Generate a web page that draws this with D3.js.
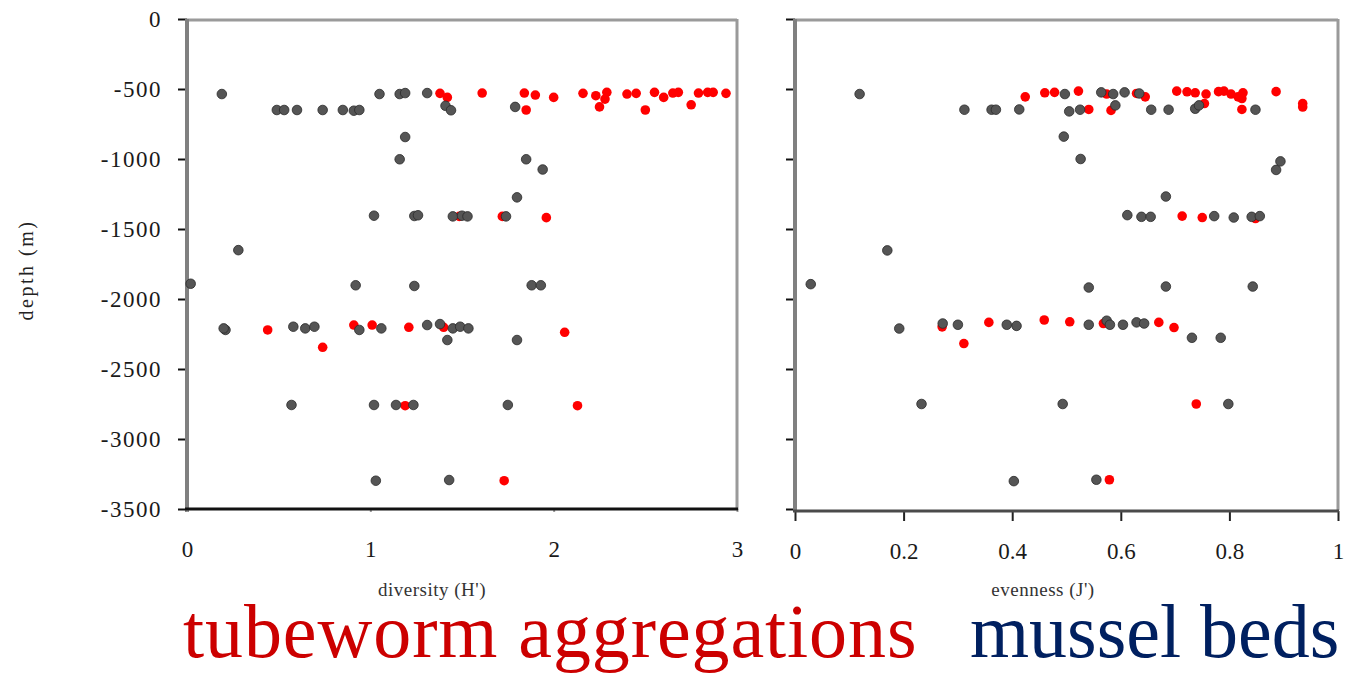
<!DOCTYPE html>
<html>
<head>
<meta charset="utf-8">
<script src="https://cdn.jsdelivr.net/npm/d3@7"></script>
<style>
  body { margin: 0; background: #fff; }
  svg text { font-family: "Liberation Serif", "DejaVu Serif", serif; }
</style>
</head>
<body>
<div id="chart"></div>
<script>
// Tick values for both panels
const depthTicks = [0, -500, -1000, -1500, -2000, -2500, -3000, -3500];
const diversityTicks = [0, 1, 2, 3];
const evennessTicks = [0, 0.2, 0.4, 0.6, 0.8, 1];

// Legend labels
const tubewormLabel = "tubeworm aggregations";
const musselLabel = "mussel beds";

// Diversity H' vs depth (m), [H', depth]
const musselH = [
  [0.19,-536],[0.49,-650],[0.53,-650],[0.60,-650],[0.74,-650],[0.85,-650],[0.91,-655],[0.94,-650],
  [1.05,-536],[1.16,-536],[1.19,-529],[1.31,-529],[1.41,-620],[1.44,-652],[1.19,-843],[1.16,-1002],
  [1.85,-1002],[1.94,-1075],[1.79,-628],
  [1.80,-1274],[1.02,-1405],[1.24,-1407],[1.26,-1402],[1.45,-1410],[1.50,-1405],[1.53,-1410],[1.74,-1410],
  [0.28,-1651],[0.02,-1891],[0.92,-1902],[1.24,-1907],[1.88,-1902],[1.93,-1902],
  [0.21,-2221],[0.20,-2210],[0.58,-2198],[0.645,-2210],[0.695,-2198],[0.94,-2221],[1.06,-2210],
  [1.31,-2186],[1.38,-2179],[1.45,-2210],[1.49,-2198],[1.535,-2210],[1.42,-2293],[1.80,-2293],
  [0.57,-2757],[1.02,-2757],[1.14,-2757],[1.235,-2757],[1.75,-2757],[1.03,-3298],[1.43,-3293]
];
const tubewormH = [
  [1.38,-531],[1.42,-560],[1.61,-529],[1.84,-529],[1.90,-543],[2.00,-560],[1.85,-650],[2.16,-531],
  [2.23,-548],[2.29,-524],[2.28,-572],[2.25,-628],[2.40,-536],[2.45,-531],[2.50,-650],[2.55,-524],
  [2.60,-560],[2.65,-529],[2.68,-524],[2.75,-613],[2.79,-529],[2.84,-524],[2.87,-524],[2.94,-531],
  [1.485,-1410],[1.72,-1410],[1.96,-1419],
  [0.44,-2221],[0.74,-2345],[0.91,-2186],[1.01,-2186],[1.21,-2202],[1.40,-2202],[2.06,-2238],
  [1.19,-2762],[2.13,-2762],[1.73,-3298]
];

// Evenness J' vs depth (m), [J', depth]
const musselJ = [
  [0.119,-536],[0.312,-648],[0.362,-648],[0.370,-648],[0.413,-646],[0.497,-536],[0.505,-660],[0.525,-648],
  [0.564,-524],[0.586,-536],[0.607,-524],[0.59,-617],[0.634,-532],[0.656,-648],[0.688,-648],[0.737,-641],
  [0.744,-617],[0.848,-648],[0.495,-840],[0.526,-1000],[0.894,-1017],[0.886,-1078],
  [0.683,-1268],[0.612,-1401],[0.638,-1413],[0.655,-1413],[0.772,-1408],[0.808,-1418],[0.841,-1413],
  [0.856,-1408],[0.170,-1653],[0.029,-1894],[0.541,-1918],[0.683,-1911],[0.843,-1911],
  [0.192,-2211],[0.272,-2175],[0.30,-2184],[0.39,-2184],[0.408,-2192],[0.541,-2184],[0.574,-2155],
  [0.58,-2184],[0.604,-2184],[0.629,-2167],[0.643,-2175],[0.731,-2277],[0.784,-2277],
  [0.233,-2750],[0.493,-2750],[0.798,-2750],[0.403,-3301],[0.555,-3291]
];
const tubewormJ = [
  [0.424,-556],[0.46,-527],[0.478,-524],[0.522,-515],[0.574,-536],[0.541,-646],[0.582,-653],[0.629,-532],
  [0.645,-556],[0.703,-515],[0.722,-520],[0.737,-527],[0.757,-536],[0.754,-604],[0.780,-519],[0.790,-515],
  [0.803,-536],[0.816,-556],[0.825,-527],[0.823,-568],[0.823,-646],[0.886,-519],[0.935,-604],[0.935,-629],
  [0.713,-1408],[0.750,-1418],[0.848,-1425],
  [0.271,-2199],[0.311,-2318],[0.357,-2167],[0.459,-2150],[0.506,-2163],[0.568,-2175],[0.67,-2167],
  [0.698,-2204],[0.739,-2750],[0.579,-3291]
];

const width = 1345, height = 675;
const svg = d3.select("#chart").append("svg")
  .attr("width", width)
  .attr("height", height);

// shared depth scale
const y = d3.scaleLinear().domain([0, -3500]).range([19, 509]);

function drawPanel(opts) {
  const x = d3.scaleLinear().domain(opts.domain).range(opts.range);
  const g = svg.append("g");
  const [x0, x1] = opts.range;

  // frame: top and right borders
  g.append("line").attr("x1", x0).attr("x2", x1).attr("y1", 20).attr("y2", 20)
    .attr("stroke", "#9a9a9a").attr("stroke-width", 3);
  g.append("line").attr("x1", x1).attr("x2", x1).attr("y1", 19).attr("y2", 510)
    .attr("stroke", "#9a9a9a").attr("stroke-width", 3);

  // y axis
  const yAxis = g.append("g")
    .attr("transform", `translate(${x0},0)`)
    .call(d3.axisLeft(y).tickValues(depthTicks).tickSize(9).tickPadding(16)
      .tickFormat(d => opts.yLabels ? String(d) : ""));
  yAxis.select(".domain").remove();
  yAxis.selectAll(".tick line").attr("stroke", "#111").attr("stroke-width", 2)
    .attr("x2", -9);
  yAxis.selectAll(".tick text")
    .attr("font-size", 23).attr("fill", "#1a1a1a")
    .attr("letter-spacing", 1.5)
    .attr("font-family", "Liberation Serif, serif");
  g.append("line").attr("x1", x0).attr("x2", x0).attr("y1", 19).attr("y2", 512)
    .attr("stroke", "#808080").attr("stroke-width", 4);

  // x axis
  const xAxis = g.append("g")
    .attr("transform", `translate(0,${opts.axisY})`)
    .call(d3.axisBottom(x).tickValues(opts.ticks).tickSize(opts.tickLen).tickPadding(32 - opts.tickLen)
      .tickFormat(d => String(d)));
  xAxis.select(".domain").remove();
  xAxis.selectAll(".tick line").attr("stroke", opts.tickColor).attr("stroke-width", 2);
  xAxis.selectAll(".tick text")
    .attr("font-size", 23).attr("fill", "#1a1a1a")
    .attr("font-family", "Liberation Serif, serif");
  g.append("line").attr("x1", x0 - 2).attr("x2", x1 + 1)
    .attr("y1", opts.axisY).attr("y2", opts.axisY)
    .attr("stroke", opts.axisColor).attr("stroke-width", 3);

  // x axis title
  g.append("text")
    .attr("x", opts.titleX).attr("y", 596)
    .attr("text-anchor", "middle")
    .attr("font-size", 19).attr("letter-spacing", 0.5)
    .attr("fill", "#333")
    .text(opts.title);

  // tubeworm (red) first, mussel (dark gray) over them
  g.selectAll("circle.tube")
    .data(opts.tube)
    .join("circle")
    .attr("class", "tube")
    .attr("cx", d => x(d[0]))
    .attr("cy", d => y(d[1]))
    .attr("r", 4.8)
    .attr("fill", "#ff0000");

  g.selectAll("circle.mussel")
    .data(opts.mussel)
    .join("circle")
    .attr("class", "mussel")
    .attr("cx", d => x(d[0]))
    .attr("cy", d => y(d[1]))
    .attr("r", 4.8)
    .attr("fill", "#555")
    .attr("stroke", "#2a2a2a")
    .attr("stroke-width", 0.8);
}

drawPanel({
  domain: [0, 3], range: [187, 737], ticks: diversityTicks,
  axisY: 509, tickLen: 3, tickColor: "#999", axisColor: "#111",
  yLabels: true, title: "diversity (H')", titleX: 432,
  tube: tubewormH, mussel: musselH
});

drawPanel({
  domain: [0, 1], range: [795, 1338], ticks: evennessTicks,
  axisY: 511, tickLen: 10, tickColor: "#222", axisColor: "#4a4a4a",
  yLabels: false, title: "evenness (J')", titleX: 1043,
  tube: tubewormJ, mussel: musselJ
});

// y axis title
svg.append("text")
  .attr("transform", "translate(33,270) rotate(-90)")
  .attr("text-anchor", "middle")
  .attr("font-size", 20).attr("letter-spacing", 2.5)
  .attr("fill", "#222")
  .text("depth (m)");

// legend text under the panels
svg.append("text")
  .attr("x", 183).attr("y", 657)
  .attr("font-size", 76).attr("letter-spacing", 0.9)
  .attr("fill", "#cc0000")
  .text(tubewormLabel);

svg.append("text")
  .attr("x", 970).attr("y", 657)
  .attr("font-size", 76)
  .attr("fill", "#002060")
  .text(musselLabel);
</script>
</body>
</html>
